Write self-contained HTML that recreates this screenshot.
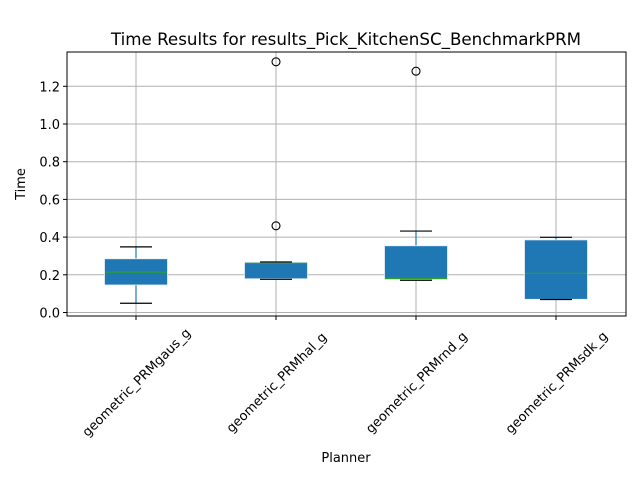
<!DOCTYPE html>
<html><head><meta charset="utf-8"><style>
body{margin:0;background:#fff;font-family:"Liberation Sans","DejaVu Sans",sans-serif}
svg text{font-family:"DejaVu Sans","Liberation Sans",sans-serif;fill:#000}
</style></head><body>
<svg id="chart" width="640" height="480" xmlns="http://www.w3.org/2000/svg">
<rect width="640" height="480" fill="#fff"/>
<g id="grid"></g>
<g id="marks"></g>
<rect x="67" y="52" width="559" height="264" fill="none" stroke="#000" stroke-width="1"/>
<g id="axes"></g>
<text x="346" y="45" font-size="16.7" text-anchor="middle">Time Results for results_Pick_KitchenSC_BenchmarkPRM</text>
<text x="346" y="462" font-size="13" text-anchor="middle">Planner</text>
<text x="25" y="184" font-size="13" text-anchor="middle" transform="rotate(-90 25 184)">Time</text>
</svg>
<script>
const categories=["geometric_PRMgaus_g","geometric_PRMhal_g","geometric_PRMrnd_g","geometric_PRMsdk_g"];
const whiskerLow=[0.049,0.176,0.171,0.069];
const q1=[0.146,0.179,0.175,0.070];
const medians=[0.214,0.261,0.181,0.208];
const q3=[0.285,0.266,0.354,0.385];
const whiskerHigh=[0.348,0.268,0.432,0.399];
const outliers=[[],[0.46,1.33],[1.28],[]];
const yTicks=[0.0,0.2,0.4,0.6,0.8,1.0,1.2];
const NS="http://www.w3.org/2000/svg";
function y(v){return 312.5-v*188.5;}
function x(i){return 136+i*140;}
function mk(tag,attrs,parent){const e=document.createElementNS(NS,tag);for(const k in attrs)e.setAttribute(k,attrs[k]);parent.appendChild(e);return e;}
const grid=document.getElementById('grid'),marks=document.getElementById('marks'),axes=document.getElementById('axes');
yTicks.forEach(t=>{
 const g=mk('line',{x1:67,x2:626,y1:y(t),y2:y(t),stroke:'#b0b0b0','stroke-width':1},grid);
 
 
 mk('line',{x1:63,x2:67,y1:y(t),y2:y(t),stroke:'#000'},axes);
 const tx=mk('text',{x:60,y:y(t)+5,'font-size':13,'text-anchor':'end'},axes);
 tx.textContent=t.toFixed(1);
 
 
});
categories.forEach((c,i)=>{
 const cx=x(i);
 const gl=mk('line',{x1:cx,x2:cx,y1:52,y2:316,stroke:'#b0b0b0'},grid);
 
 
 mk('line',{x1:cx,x2:cx,y1:316,y2:320,stroke:'#000'},axes);
 const tx=mk('text',{x:cx,y:387,'font-size':13,'text-anchor':'middle',transform:`rotate(-45 ${cx} 382)`},axes);
 tx.textContent=c;
 
 
 const g=mk('g',{},marks);
 
 
 mk('line',{x1:cx,x2:cx,y1:y(whiskerLow[i]),y2:y(q1[i]),stroke:'#1f77b4','stroke-width':1.2},g);
 mk('line',{x1:cx,x2:cx,y1:y(q3[i]),y2:y(whiskerHigh[i]),stroke:'#1f77b4','stroke-width':1.2},g);
 mk('rect',{x:cx-31.5,y:y(q3[i]),width:63,height:Math.max(1,y(q1[i])-y(q3[i])),fill:'#1f77b4',stroke:'#e8f0f8','stroke-width':0.8},g);
 mk('line',{x1:cx-16,x2:cx+16,y1:y(whiskerLow[i]),y2:y(whiskerLow[i]),stroke:'#000','stroke-width':1.2},g);
 mk('line',{x1:cx-16,x2:cx+16,y1:y(whiskerHigh[i]),y2:y(whiskerHigh[i]),stroke:'#000','stroke-width':1.2},g);
 mk('line',{x1:cx-31,x2:cx+31,y1:y(medians[i]),y2:y(medians[i]),stroke:'#2ca02c','stroke-width':1.2},g);
 outliers[i].forEach(o=>{
  const ci=mk('circle',{cx:cx,cy:y(o),r:4,fill:'none',stroke:'#000','stroke-width':1.1},g);
  
  
 });
});
</script>
</body></html>
